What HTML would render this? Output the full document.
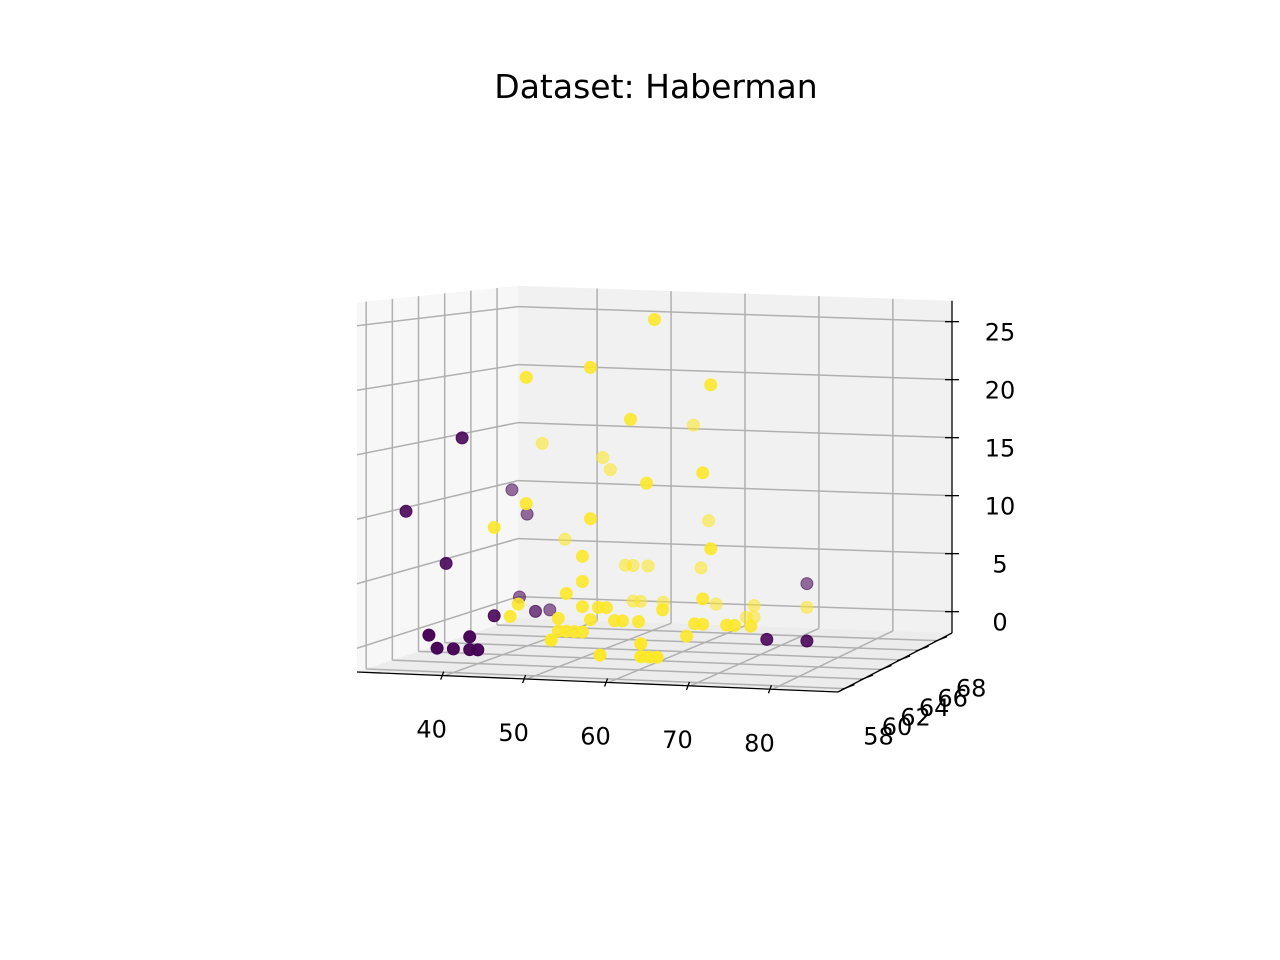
<!DOCTYPE html>
<html><head><meta charset="utf-8"><style>
html,body{margin:0;padding:0;background:#fff;}
svg{display:block;font-family:"DejaVu Sans","Liberation Sans",sans-serif;}
text{font-size:24px;}
#chart-title{font-size:33px;}
</style></head><body>
<svg id="chart" width="1280" height="960" viewBox="0 0 1280 960">
<text id="chart-title" x="656" y="98" text-anchor="middle" fill="#000">Dataset: Haberman</text>
<g id="panes"></g>
<g id="grid"></g>
<g id="axes"></g>
<g id="points"></g>
</svg>
<script>
// data: age, operation year, positive axillary nodes, class (0 purple, 1 yellow)
const age   = [62,46,54,69,59,61,68,46,42,54,69,53,53,68,51,53,45,44,50,51,52,53,66,67,68,71,72,74,55,54,57,58,60,63,56,50,
               52,58,63,63,64,65, 37,38,40,42,42,43, 31,36,38,76,81,42,
               37,45,46,59,40,48,49,51,57,58,72,65,49,60,65,64,53,50, 72,33,35,38,34,41];
const year  = [60,60,60,60,60,60,60,60,60,60,60,60,60,60,60,60,60,60,60,60,60,60,60,60,60,60,60,60,60,60,60,60,60,60,60,60,
               58,58,58,58,58,58, 58,58,58,58,58,58, 60,60,60,60,60,60,
               67,67,67,67,67,67,67,67,67,67,67,67,67,67,67,67,67,67, 67,67,67,67,67,64];
const nodes = [26,21,22,21,18,13,14,11,9,10,8,7,5,4,4,3,3,2,1,1,1,1,1,2,2,2,2,2,3,2,2,2,2,3,3,2,
               1,0,1,0,0,0, 1,0,0,0,1,0, 10,6,16,1,1,2,
               14,13,12,8,6,4,4,4,16,4,1,1,1,1,0,0,1,1, 3,10,8,0,1,1];
const cls   = [1,1,1,1,1,1,1,1,1,1,1,1,1,1,1,1,1,1,1,1,1,1,1,1,1,1,1,1,1,1,1,1,1,1,1,1,
               1,1,1,1,1,1, 0,0,0,0,0,0, 0,0,0,0,0,0,
               1,1,1,1,1,1,1,1,1,1,1,1,1,1,1,1,1,1, 0,0,0,0,0,0];
const ageTicks  = [40,50,60,70,80];
const yearTicks = [58,60,62,64,66,68];
const nodeTicks = [0,5,10,15,20,25];

const AGE_MIN=29.3, AGE_MAX=88, YR_MIN=57.3, YR_MAX=69.6, N_MIN=-1.84, N_MAX=26.8;
const FL=[357,672], FR=[838,692], BL=[518,618], BR=[952,633];
const SC_FRONT=12.9, SC_BACK=11.6;
const NS='http://www.w3.org/2000/svg';

function proj(a,y,n){
  const u=(a-AGE_MIN)/(AGE_MAX-AGE_MIN), t=(y-YR_MIN)/(YR_MAX-YR_MIN);
  const fx=FL[0]+(FR[0]-FL[0])*u, fy=FL[1]+(FR[1]-FL[1])*u;
  const bx=BL[0]+(BR[0]-BL[0])*u, by=BL[1]+(BR[1]-BL[1])*u;
  const x=fx+(bx-fx)*t, yy=fy+(by-fy)*t;
  const s=SC_FRONT+(SC_BACK-SC_FRONT)*t;
  return [x, yy-(n-N_MIN)*s];
}
function el(tag,attrs,parent){const e=document.createElementNS(NS,tag);for(const k in attrs)e.setAttribute(k,attrs[k]);parent.appendChild(e);return e;}
function poly(pts){return pts.map(p=>p[0].toFixed(1)+','+p[1].toFixed(1)).join(' ');}
function line(p,q,attrs,parent){return el('line',Object.assign({x1:p[0],y1:p[1],x2:q[0],y2:q[1]},attrs),parent);}

const panes=document.getElementById('panes'), grid=document.getElementById('grid'),
      axes=document.getElementById('axes'), pts=document.getElementById('points');

let p=el('polygon',{points:poly([proj(AGE_MIN,YR_MIN,N_MIN),proj(AGE_MIN,YR_MAX,N_MIN),proj(AGE_MIN,YR_MAX,N_MAX),proj(AGE_MIN,YR_MIN,N_MAX)]),fill:'#f7f7f7'},panes);


p=el('polygon',{points:poly([proj(AGE_MIN,YR_MAX,N_MIN),proj(AGE_MAX,YR_MAX,N_MIN),proj(AGE_MAX,YR_MAX,N_MAX),proj(AGE_MIN,YR_MAX,N_MAX)]),fill:'#f1f1f1'},panes);


p=el('polygon',{points:poly([proj(AGE_MIN,YR_MIN,N_MIN),proj(AGE_MAX,YR_MIN,N_MIN),proj(AGE_MAX,YR_MAX,N_MIN),proj(AGE_MIN,YR_MAX,N_MIN)]),fill:'#ececec'},panes);



const G={stroke:'#b0b0b0','stroke-width':1.5};
ageTicks.forEach(a=>{
  let l=line(proj(a,YR_MIN,N_MIN),proj(a,YR_MAX,N_MIN),G,grid);
  
  
  l=line(proj(a,YR_MAX,N_MIN),proj(a,YR_MAX,N_MAX),G,grid);
  
  
});
yearTicks.forEach(y=>{
  let l=line(proj(AGE_MIN,y,N_MIN),proj(AGE_MAX,y,N_MIN),G,grid);
  
  
  l=line(proj(AGE_MIN,y,N_MIN),proj(AGE_MIN,y,N_MAX),G,grid);
  
  
});
nodeTicks.forEach(n=>{
  let l=line(proj(AGE_MIN,YR_MIN,n),proj(AGE_MIN,YR_MAX,n),G,grid);
  
  
  l=line(proj(AGE_MIN,YR_MAX,n),proj(AGE_MAX,YR_MAX,n),G,grid);
  
  
});

const A={stroke:'#000','stroke-width':1.3};
let ax=line(proj(AGE_MIN,YR_MIN,N_MIN),proj(AGE_MAX,YR_MIN,N_MIN),A,axes);


ax=line(proj(AGE_MAX,YR_MIN,N_MIN),proj(AGE_MAX,YR_MAX,N_MIN),A,axes);


ax=line(proj(AGE_MAX,YR_MAX,N_MIN),proj(AGE_MAX,YR_MAX,N_MAX),A,axes);



ageTicks.forEach(a=>{
  const q=proj(a,YR_MIN,N_MIN);
  let t=line([q[0]-1,q[1]-4],[q[0]-4,q[1]+4],A,axes);
  
  
  const tx=el('text',{x:q[0]-13,y:q[1]+62,'text-anchor':'middle'},axes);
  tx.textContent=a;
  
  
});
yearTicks.forEach(y=>{
  const q=proj(AGE_MAX,y,N_MIN);
  let t=line([q[0]-3,q[1]+1],[q[0]+10,q[1]-4],A,axes);
  
  
  const tx=el('text',{x:q[0]+34,y:q[1]+56,'text-anchor':'middle'},axes);
  tx.textContent=y;
  
  
});
nodeTicks.forEach(n=>{
  const q=proj(AGE_MAX,YR_MAX,n);
  let t=line([q[0]-7,q[1]],[q[0]+7,q[1]],A,axes);
  
  
  const tx=el('text',{x:q[0]+48,y:q[1]+19,'text-anchor':'middle'},axes);
  tx.textContent=n;
  
  
});

const order=age.map((_,i)=>i).sort((i,j)=>year[j]-year[i]);
order.forEach(i=>{
  const q=proj(age[i],year[i],nodes[i]);
  const t=(year[i]-YR_MIN)/(YR_MAX-YR_MIN);
  const alpha=1-0.55*t;
  const col=cls[i]?'#fde725':'#440154';
  const c=el('circle',{cx:q[0].toFixed(1),cy:q[1].toFixed(1),r:6,fill:col,'fill-opacity':alpha,stroke:col,'stroke-opacity':alpha,'stroke-width':1},pts);
  
  
});
</script>
</body></html>
